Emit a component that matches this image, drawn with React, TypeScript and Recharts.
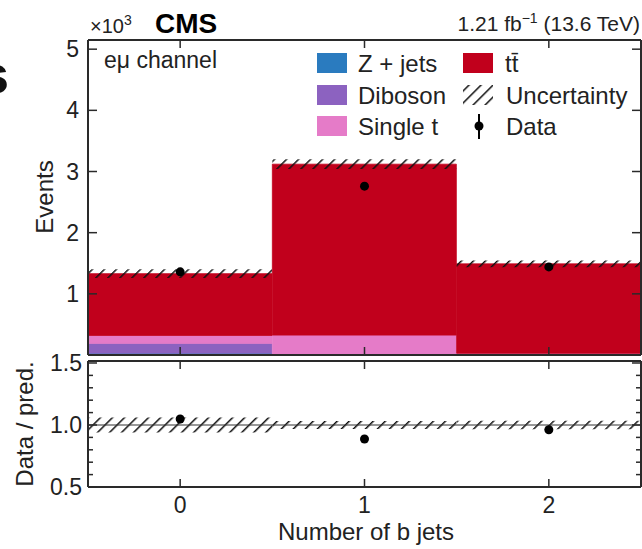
import React from 'react';
import { ComposedChart, Bar, Line, XAxis, YAxis, ReferenceLine } from 'recharts';

// ---- data ----
const categories = ['0', '1', '2'];
const zJets = [30, 5, 3];
const diboson = [160, 10, 5];
const singleTop = [130, 310, 20];
const ttbar = [1010, 2795, 1462];
const dataEvents = [1360, 2760, 1440];
const predUnc = [73, 80, 57];
const ratioValues = [1.048, 0.887, 0.962];
const ratioUnc = [0.06, 0.032, 0.035];
const upperTicks = [1000, 2000, 3000, 4000, 5000];
const ratioTicks = [0.5, 0.6, 0.7, 0.8, 0.9, 1.0, 1.1, 1.2, 1.3, 1.4, 1.5];
const ratioMajor = [0.5, 1.0, 1.5];

const seriesNames = ['Z + jets', 'Diboson', 'Single t', 't\u0074\u0304'];
const seriesColors = ['#2a7bbf', '#8c62c0', '#e57bc8', '#c1001c'];

const upperData = categories.map((c, i) => {
  const total = zJets[i] + diboson[i] + singleTop[i] + ttbar[i];
  return {
    cat: c,
    z: zJets[i],
    vv: diboson[i],
    st: singleTop[i],
    tt: ttbar[i],
    unc: [total - predUnc[i], total + predUnc[i]],
    data: dataEvents[i],
  };
});

const ratioData = categories.map((c, i) => ({
  cat: c,
  band: [1 - ratioUnc[i], 1 + ratioUnc[i]],
  ratio: ratioValues[i],
}));

const FONT = '"Liberation Sans", Arial, Helvetica, sans-serif';
const INK = '#222';
const AXIS = { stroke: '#2a2a2a', strokeWidth: 2 };

const HatchDef = ({ id }: { id: string }) => (
  <pattern id={id} patternUnits="userSpaceOnUse" width="8.5" height="8.5" patternTransform="rotate(45)">
    <line x1="0" y1="0" x2="0" y2="8.5" stroke="#111" strokeWidth="3" />
  </pattern>
);

const LeftTickUpper = (p: any) => (
  <g>
    <line x1={p.x} y1={p.y} x2={p.x + 9} y2={p.y} stroke="#2a2a2a" strokeWidth={1.5} />
    <text x={p.x - 9} y={p.y + 8} textAnchor="end" fontSize={23} fontFamily={FONT} fill={INK}>
      {String(p.payload.value / 1000)}
    </text>
  </g>
);
const RightTickUpper = (p: any) => (
  <line x1={p.x} y1={p.y} x2={p.x - 9} y2={p.y} stroke="#2a2a2a" strokeWidth={1.5} />
);
const TopTick = (p: any) => (
  <line x1={p.x} y1={p.y} x2={p.x} y2={p.y + 8} stroke="#2a2a2a" strokeWidth={1.5} />
);
const BottomTickNoLabel = (p: any) => (
  <line x1={p.x} y1={p.y} x2={p.x} y2={p.y - 8} stroke="#2a2a2a" strokeWidth={1.5} />
);
const BottomTickLabel = (p: any) => (
  <g>
    <line x1={p.x} y1={p.y} x2={p.x} y2={p.y - 8} stroke="#2a2a2a" strokeWidth={1.5} />
    <text x={p.x} y={p.y + 26} textAnchor="middle" fontSize={23} fontFamily={FONT} fill={INK}>
      {p.payload.value}
    </text>
  </g>
);
const isMajor = (v: number) => ratioMajor.some((m) => Math.abs(m - v) < 1e-6);
const LeftTickRatio = (p: any) => {
  const v = p.payload.value;
  const major = isMajor(v);
  return (
    <g>
      <line x1={p.x} y1={p.y} x2={p.x + (major ? 9 : 5)} y2={p.y} stroke="#2a2a2a" strokeWidth={1.5} />
      {major ? (
        <text x={p.x - 6} y={p.y + 8} textAnchor="end" fontSize={23} fontFamily={FONT} fill={INK}>
          {v.toFixed(1)}
        </text>
      ) : null}
    </g>
  );
};
const RightTickRatio = (p: any) => {
  const major = isMajor(p.payload.value);
  return <line x1={p.x} y1={p.y} x2={p.x - (major ? 9 : 5)} y2={p.y} stroke="#2a2a2a" strokeWidth={1.5} />;
};

const UpperPanel = () => (
  <ComposedChart
    width={642}
    height={356}
    data={upperData}
    margin={{ top: 39, right: 0, bottom: 0, left: 0 }}
    barCategoryGap={0}
    barGap={0}
  >
    <defs>
      <HatchDef id="hatchUpper" />
    </defs>
    <XAxis xAxisId="main" dataKey="cat" orientation="bottom" height={1} axisLine={AXIS} tickLine={false} tickSize={0} tickMargin={0} tick={(p: any) => <BottomTickNoLabel {...p} />} />
    <XAxis xAxisId="top" dataKey="cat" orientation="top" height={1} axisLine={AXIS} tickLine={false} tickSize={0} tickMargin={0} tick={(p: any) => <TopTick {...p} />} />
    <XAxis xAxisId="unc" dataKey="cat" hide />
    <YAxis yAxisId="y" type="number" domain={[0, 5150]} allowDataOverflow ticks={upperTicks} width={88} axisLine={AXIS} tickLine={false} tickSize={0} tickMargin={0} tick={(p: any) => <LeftTickUpper {...p} />} />
    <YAxis yAxisId="r" orientation="right" type="number" domain={[0, 5150]} allowDataOverflow ticks={upperTicks} width={1} axisLine={AXIS} tickLine={false} tickSize={0} tickMargin={0} tick={(p: any) => <RightTickUpper {...p} />} />
    <Bar xAxisId="main" yAxisId="y" dataKey="z" stackId="s" fill={seriesColors[0]} stroke={seriesColors[0]} strokeWidth={0.8} isAnimationActive={false} />
    <Bar xAxisId="main" yAxisId="y" dataKey="vv" stackId="s" fill={seriesColors[1]} stroke={seriesColors[1]} strokeWidth={0.8} isAnimationActive={false} />
    <Bar xAxisId="main" yAxisId="y" dataKey="st" stackId="s" fill={seriesColors[2]} stroke={seriesColors[2]} strokeWidth={0.8} isAnimationActive={false} />
    <Bar xAxisId="main" yAxisId="y" dataKey="tt" stackId="s" fill={seriesColors[3]} stroke={seriesColors[3]} strokeWidth={0.8} isAnimationActive={false} />
    <Bar xAxisId="unc" yAxisId="y" dataKey="unc" fill="url(#hatchUpper)" isAnimationActive={false} />
    <Line xAxisId="main" yAxisId="y" dataKey="data" stroke="none" dot={{ r: 4.5, fill: '#000', stroke: 'none' }} activeDot={false} isAnimationActive={false} />
  </ComposedChart>
);

const RatioPanel = () => (
  <ComposedChart
    width={642}
    height={549}
    data={ratioData}
    margin={{ top: 360, right: 0, bottom: 0, left: 0 }}
    barCategoryGap={0}
    barGap={0}
  >
    <defs>
      <HatchDef id="hatchRatio" />
    </defs>
    <XAxis xAxisId="main" dataKey="cat" orientation="bottom" height={62} axisLine={AXIS} tickLine={false} tickSize={0} tickMargin={0} tick={(p: any) => <BottomTickLabel {...p} />} />
    <XAxis xAxisId="top" dataKey="cat" orientation="top" height={1} axisLine={AXIS} tickLine={false} tickSize={0} tickMargin={0} tick={(p: any) => <TopTick {...p} />} />
    <YAxis yAxisId="y" type="number" domain={[0.5, 1.516]} allowDataOverflow ticks={ratioTicks} interval={0} width={88} axisLine={AXIS} tickLine={false} tickSize={0} tickMargin={0} tick={(p: any) => <LeftTickRatio {...p} />} />
    <YAxis yAxisId="r" orientation="right" type="number" domain={[0.5, 1.516]} allowDataOverflow ticks={ratioTicks} interval={0} width={1} axisLine={AXIS} tickLine={false} tickSize={0} tickMargin={0} tick={(p: any) => <RightTickRatio {...p} />} />
    <ReferenceLine xAxisId="main" yAxisId="y" y={1} stroke="#333" strokeWidth={1.2} />
    <Bar xAxisId="main" yAxisId="y" dataKey="band" fill="url(#hatchRatio)" isAnimationActive={false} />
    <Line xAxisId="main" yAxisId="y" dataKey="ratio" stroke="none" dot={{ r: 4.5, fill: '#000', stroke: 'none' }} activeDot={false} isAnimationActive={false} />
  </ComposedChart>
);

const Overlay = () => {
  const rowsY = [63, 95, 126];
  return (
    <svg width={642} height={549} style={{ position: 'absolute', left: 0, top: 0, pointerEvents: 'none' }}>
      <defs>
        <HatchDef id="hatchLegend" />
      </defs>
      {/* fragment of neighbouring figure title */}
      <text x={9} y={93} textAnchor="end" fontSize={54} fontWeight="bold" fontFamily={FONT} fill="#111">s</text>
      {/* header */}
      <text x={90} y={33} fontSize={20} fontFamily={FONT} fill={INK}>
        ×10<tspan dy={-8} fontSize={14}>3</tspan>
      </text>
      <text x={155} y={33} fontSize={28} fontWeight="bold" fontFamily={FONT} fill="#000">CMS</text>
      <text x={640} y={31} textAnchor="end" fontSize={21} fontFamily={FONT} fill={INK}>
        1.21 fb<tspan dy={-8} fontSize={14}>−1</tspan><tspan dy={8}> (13.6 TeV)</tspan>
      </text>
      <text x={104} y={68} fontSize={23} fontFamily={FONT} fill={INK}>eμ channel</text>
      {/* legend column 1 */}
      {[0, 1, 2].map((i) => (
        <g key={i}>
          <rect x={317} y={rowsY[i] - 10} width={30} height={20} fill={seriesColors[i]} />
          <text x={358} y={rowsY[i] + 9} fontSize={24} fontFamily={FONT} fill={INK}>{seriesNames[i]}</text>
        </g>
      ))}
      {/* legend column 2 */}
      <rect x={463} y={rowsY[0] - 10} width={30} height={20} fill={seriesColors[3]} />
      <text x={505} y={rowsY[0] + 9} fontSize={24} fontFamily={FONT} fill={INK}>{seriesNames[3]}</text>
      <rect x={463} y={rowsY[1] - 10} width={30} height={20} fill="url(#hatchLegend)" />
      <text x={506} y={rowsY[1] + 9} fontSize={24} fontFamily={FONT} fill={INK}>Uncertainty</text>
      <line x1={479} y1={rowsY[2] - 12} x2={479} y2={rowsY[2] + 13} stroke="#000" strokeWidth={2} />
      <circle cx={479} cy={rowsY[2]} r={4.5} fill="#000" />
      <text x={506} y={rowsY[2] + 9} fontSize={24} fontFamily={FONT} fill={INK}>Data</text>
      {/* axis titles */}
      <text x={53} y={197} transform="rotate(-90 53 197)" textAnchor="middle" fontSize={24} fontFamily={FONT} fill={INK}>Events</text>
      <text x={33} y={424} transform="rotate(-90 33 424)" textAnchor="middle" fontSize={24} fontFamily={FONT} fill={INK}>Data / pred.</text>
      <text x={366} y={540} textAnchor="middle" fontSize={24} fontFamily={FONT} fill={INK}>Number of b jets</text>
    </svg>
  );
};

export default function App() {
  return (
    <div style={{ position: 'absolute', left: 0, top: 0, width: 642, height: 549, background: '#fff', overflow: 'hidden' }}>
      <div style={{ position: 'absolute', left: 0, top: 0 }}>
        <RatioPanel />
      </div>
      <div style={{ position: 'absolute', left: 0, top: 0 }}>
        <UpperPanel />
      </div>
      <Overlay />
    </div>
  );
}
